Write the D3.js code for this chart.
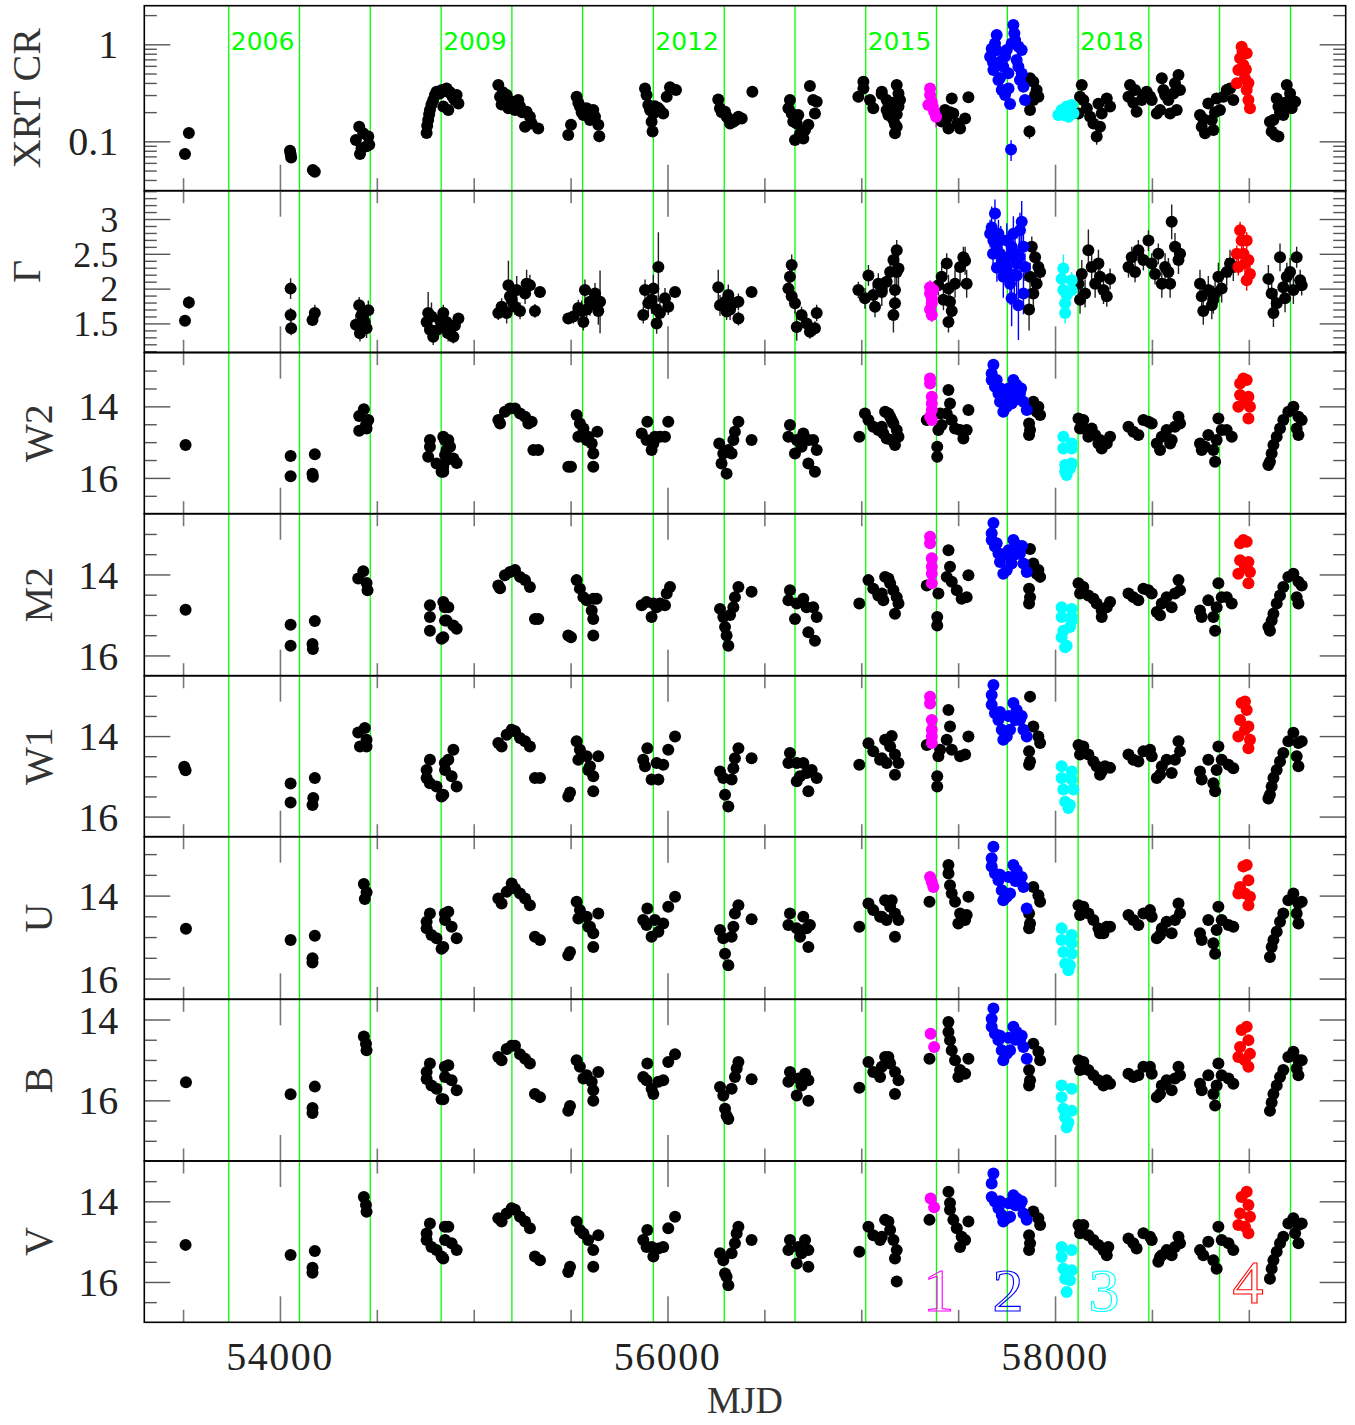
<!DOCTYPE html>
<html>
<head>
<meta charset="utf-8">
<script src="https://cdn.jsdelivr.net/npm/d3@7"></script>
<style>
  body { margin: 0; background: #fff; }
</style>
</head>
<body>
<div id="chart"></div>
<script>
// point = [MJD, value, group, error]; group 0 = quiescent, 1..4 = flares
const xrtRate = [
  [53510,0.074],[53530,0.122],
  [54052,0.080],[54055,0.074],[54058,0.068],
  [54170,0.0506],[54180,0.0486],
  [54409,0.141],[54392,0.103],[54430,0.121],[54456,0.112],[54447,0.089],[54413,0.074],[54461,0.092],[54421,0.085],
  [54757,0.122],[54760,0.145],[54765,0.166],[54770,0.19],[54774,0.21],[54782,0.24],[54791,0.267],[54800,0.30],[54808,0.325],[54825,0.312],[54835,0.338],[54843,0.228],[54851,0.343],[54860,0.351],[54868,0.325],[54869,0.21],[54878,0.32],[54886,0.30],[54895,0.28],[54903,0.267],[54912,0.30],[54921,0.246],
  [55127,0.380],[55136,0.288],[55144,0.240],[55150,0.32],[55170,0.30],[55179,0.219],[55187,0.26],[55196,0.256],[55213,0.21],[55220,0.24],[55230,0.267],[55239,0.228],[55250,0.2],[55265,0.141],[55273,0.202],[55290,0.179],[55299,0.153],[55333,0.136],
  [55488,0.116],[55502,0.148],[55531,0.288],[55540,0.25],[55548,0.228],[55557,0.2],[55566,0.187],[55583,0.219],[55600,0.166],[55609,0.19],[55617,0.210],[55626,0.179],[55643,0.148],[55648,0.113,0,0.015],
  [55884,0.351],[55892,0.30],[55901,0.237],[55910,0.21],[55927,0.194],[55918,0.159],[55923,0.126],[55935,0.23],[55953,0.22],[55961,0.21],[55978,0.194],[55996,0.288],[56013,0.36],[56044,0.338],
  [56262,0.27],[56271,0.219],[56280,0.2],[56297,0.202],[56305,0.18],[56314,0.172],[56323,0.153],[56340,0.159],[56350,0.165],[56357,0.17],[56366,0.179],[56383,0.172],[56438,0.325],
  [56624,0.219],[56632,0.267],[56641,0.194],[56649,0.16],[56658,0.103],[56667,0.153],[56675,0.187],[56684,0.12],[56701,0.107],[56710,0.131],[56727,0.148],[56735,0.372],[56752,0.267],[56761,0.194],[56770,0.256],
  [56985,0.288],[57011,0.412,0,0.04],[57011,0.351],[57045,0.267],[57062,0.219],[57105,0.307],[57106,0.325],[57131,0.21],[57131,0.267],[57140,0.187],[57149,0.21],[57157,0.179],[57166,0.166],[57166,0.25],[57174,0.121],[57174,0.15],[57183,0.38],[57183,0.141],[57183,0.19],[57192,0.312],[57192,0.228],[57200,0.267],
  [57346,0.237,1],[57355,0.351,1],[57355,0.30,1],[57364,0.256,1],[57369,0.228,1],[57376,0.202,1],[57386,0.179,1,0.04],
  [57407,0.172],[57415,0.16],[57432,0.21],[57441,0.172],[57450,0.136],[57458,0.2],[57467,0.277],[57475,0.194],[57496,0.153],[57510,0.136],[57536,0.172],[57553,0.284],
  [57665,0.745,2],[57673,0.9,2],[57680,0.65,2],[57682,0.543,2],[57690,1.02,2],[57699,1.25,2],[57699,0.87,2],[57708,0.429,2],[57716,0.662,2],[57716,0.45,2],[57725,0.338,2],[57733,0.588,2],[57742,0.30,2],[57742,0.75,2],[57751,0.873,2],[57759,0.502,2],[57760,0.35,2],[57768,0.242,2],[57776,1.02,2],[57785,1.58,2],[57790,1.3,2],[57794,1.11,2],[57802,0.689,2],[57811,0.588,2],[57811,0.95,2],[57819,0.429,2],[57828,0.873,2],[57828,0.5,2],[57837,0.366,2],[57845,0.267,2],[57773,0.0826,2,0.02],
  [57868,0.126,0,0.02],[57871,0.446],[57871,0.21],[57888,0.412],[57888,0.267],[57897,0.30],[57905,0.338],[57914,0.288],
  [58017,0.187,3],[58034,0.21,3],[58043,0.187,3],[58060,0.228,3],[58069,0.179,3],[58086,0.237,3],[58095,0.194,3],
  [58121,0.194],[58129,0.288],[58138,0.38],[58146,0.267],[58164,0.219],[58181,0.179],[58198,0.153],[58215,0.112,0,0.02],[58224,0.244],[58232,0.141],[58241,0.194],[58267,0.277],[58284,0.228],
  [58379,0.288],[58387,0.38],[58404,0.25],[58413,0.338],[58421,0.202],[58447,0.267],[58456,0.3],[58473,0.325],[58490,0.29],[58499,0.267],[58525,0.194],[58542,0.21],[58551,0.446],[58559,0.338],[58568,0.3],[58585,0.267],[58594,0.194],[58611,0.312],[58619,0.396],[58628,0.21],[58637,0.483],[58645,0.338],
  [58748,0.187],[58757,0.141],[58765,0.17],[58774,0.121],[58791,0.246],[58809,0.166],[58817,0.131],[58826,0.2],[58834,0.277],[58851,0.21],[58869,0.288],[58886,0.338],[58903,0.351],[58920,0.267],
  [58938,0.396,4],[58946,0.543,4],[58955,0.717,4],[58963,0.945,4],[58968,0.85,4],[58972,0.612,4],[58980,0.446,4],[58985,0.55,4],[58989,0.338,4],[58989,0.808,4],[58998,0.267,4],[58998,0.4,4],[59006,0.219,4],
  [59109,0.159],[59118,0.126],[59127,0.166],[59135,0.116],[59144,0.277],[59153,0.112],[59153,0.228],[59161,0.2],[59178,0.187],[59187,0.25],[59196,0.38],[59204,0.228],[59213,0.312],[59221,0.219],[59239,0.256]
];

const photonIndex = [
  [53510,1.54,0,0.06],[53530,1.80,0,0.09],
  [54055,2.00,0,0.15],[54055,1.62,0,0.10],[54058,1.43,0,0.10],
  [54168,1.55,0,0.08],[54180,1.65,0,0.12],
  [54409,1.76,0,0.12],[54456,1.69,0,0.14],[54392,1.48,0,0.15],[54430,1.55,0,0.12],[54447,1.43,0,0.14],[54413,1.36,0,0.12],[54421,1.62,0,0.12],[54438,1.52,0,0.14],
  [54765,1.65,0,0.3],[54757,1.52,0,0.15],[54774,1.41,0,0.14],[54791,1.31,0,0.12],[54825,1.55,0,0.12],[54843,1.45,0,0.14],[54868,1.36,0,0.12],[54843,1.65,0,0.12],[54860,1.52,0,0.12],[54878,1.41,0,0.1],[54903,1.47,0,0.1],[54921,1.57,0,0.08],[54895,1.31,0,0.1],[54782,1.6,0,0.2],[54808,1.4,0,0.12],
  [55127,1.65,0,0.1],[55144,1.74,0,0.12],[55179,2.05,0,0.35],[55187,1.89,0,0.15],[55170,1.65,0,0.15],[55196,1.84,0,0.15],[55222,1.98,0,0.2],[55239,1.68,0,0.12],[55265,1.93,0,0.15],[55273,2.07,0,0.2],[55290,2.05,0,0.15],[55316,1.68,0,0.1],[55342,1.95,0,0.08],[55213,1.74,0,0.12],
  [55488,1.57,0,0.05],[55514,1.60,0,0.1],[55540,1.72,0,0.12],[55557,1.68,0,0.15],[55574,1.98,0,0.15],[55583,1.70,0,0.15],[55600,1.81,0,0.2],[55626,1.93,0,0.15],[55634,1.76,0,0.15],[55652,1.81,0,0.45],[55643,1.68,0,0.2],[55566,1.52,0,0.12],
  [55875,1.62,0,0.12],[55884,1.98,0,0.15],[55901,1.79,0,0.15],[55927,2.0,0,0.2],[55944,1.70,0,0.2],[55953,2.31,0,0.5],[55961,1.65,0,0.2],[55987,1.86,0,0.15],[56004,1.74,0,0.12],[56039,1.95,0,0.08],[55944,1.50,0,0.15],[55918,1.84,0,0.2],
  [56262,2.02,0,0.25],[56271,1.76,0,0.15],[56297,1.81,0,0.15],[56314,1.91,0,0.15],[56323,1.70,0,0.15],[56340,1.79,0,0.12],[56366,1.81,0,0.12],[56366,1.57,0,0.1],[56434,1.95,0,0.08],[56305,1.67,0,0.12],
  [56641,2.34,0,0.15],[56632,2.17,0,0.15],[56624,2.0,0,0.15],[56641,1.89,0,0.12],[56658,1.79,0,0.15],[56667,1.45,0,0.2],[56692,1.62,0,0.12],[56718,1.50,0,0.12],[56744,1.41,0,0.1],[56770,1.65,0,0.12],[56761,1.43,0,0.1],[56735,1.38,0,0.1],
  [56985,1.98,0,0.12],[57019,1.86,0,0.15],[57037,2.19,0,0.15],[57062,1.91,0,0.15],[57071,1.74,0,0.15],[57088,2.07,0,0.15],[57105,2.0,0,0.15],[57106,1.95,0,0.2],[57131,2.10,0,0.15],[57149,2.24,0,0.15],[57166,2.41,0,0.2],[57183,2.55,0,0.15],[57174,1.79,0,0.2],[57166,1.62,0,0.25],[57174,1.98,0,0.2],[57183,2.24,0,0.2],[57192,2.29,0,0.25],
  [57355,2.02,1,0.1],[57355,1.93,1,0.1],[57364,1.86,1,0.1],[57364,1.79,1,0.1],[57355,1.70,1,0.1],[57364,1.62,1,0.1],[57372,1.98,1,0.12],
  [57398,2.05,0,0.15],[57415,2.17,0,0.15],[57441,2.36,0,0.15],[57450,2.0,0,0.2],[57458,1.81,0,0.2],[57450,1.52,0,0.15],[57467,1.68,0,0.2],[57484,2.07,0,0.2],[57510,2.31,0,0.2],[57527,2.45,0,0.15],[57536,2.40,0,0.2],[57544,2.07,0,0.2],[57424,1.84,0,0.15],
  [57690,3.08,2,0.2],[57673,2.88,2,0.3],[57665,2.79,2,0.2],[57682,2.69,2,0.2],[57699,2.60,2,0.2],[57716,2.50,2,0.2],[57725,2.41,2,0.2],[57742,2.31,2,0.2],[57751,2.69,2,0.25],[57776,2.60,2,0.25],[57785,2.79,2,0.25],[57794,2.50,2,0.25],[57802,2.36,2,0.25],[57819,2.84,2,0.25],[57828,2.96,2,0.3],[57837,2.60,2,0.2],[57845,2.31,2,0.2],[57768,2.07,2,0.3],[57776,1.86,2,0.4],[57811,1.76,2,0.5],[57837,1.93,2,0.3],[57733,2.17,2,0.3],[57708,2.79,2,0.2],[57802,2.19,2,0.3],[57680,2.5,2,0.2],[57700,2.3,2,0.2],[57720,2.7,2,0.2],[57760,2.45,2,0.25],[57790,2.2,2,0.3],[57815,2.45,2,0.3],[57750,2.3,2,0.3],
  [57880,2.60,0,0.15],[57897,2.45,0,0.15],[57914,2.31,0,0.15],[57923,2.24,0,0.15],[57905,2.07,0,0.15],[57888,1.93,0,0.2],[57866,1.70,0,0.3],[57871,2.17,0,0.2],
  [58043,2.29,3,0.2],[58034,2.14,3,0.12],[58043,1.98,3,0.12],[58060,1.91,3,0.12],[58052,1.79,3,0.12],[58052,1.65,3,0.15],[58086,2.12,3,0.12],[58086,1.98,3,0.12],
  [58121,2.07,0,0.2],[58138,2.21,0,0.2],[58155,1.93,0,0.2],[58172,2.55,0,0.3],[58189,2.31,0,0.2],[58207,2.07,0,0.2],[58232,2.17,0,0.2],[58250,1.98,0,0.2],[58267,1.89,0,0.15],[58284,2.14,0,0.15],[58224,2.36,0,0.2],[58129,1.84,0,0.2],
  [58379,2.31,0,0.15],[58396,2.45,0,0.15],[58413,2.24,0,0.15],[58430,2.55,0,0.15],[58456,2.41,0,0.15],[58482,2.69,0,0.15],[58499,2.36,0,0.15],[58516,2.21,0,0.15],[58533,2.50,0,0.15],[58551,2.07,0,0.2],[58568,2.31,0,0.2],[58585,2.24,0,0.2],[58602,2.96,0,0.25],[58619,2.60,0,0.2],[58637,2.41,0,0.2],[58645,2.50,0,0.15],[58594,2.07,0,0.2],
  [58748,2.07,0,0.2],[58757,1.89,0,0.2],[58765,1.68,0,0.2],[58791,1.98,0,0.2],[58809,1.76,0,0.2],[58826,1.93,0,0.2],[58843,2.17,0,0.2],[58860,2.0,0,0.2],[58886,2.24,0,0.2],[58903,2.36,0,0.2],[58920,2.31,0,0.2],[58817,1.84,0,0.2],
  [58955,2.84,4,0.12],[58963,2.69,4,0.12],[58972,2.50,4,0.12],[58980,2.36,4,0.12],[58989,2.69,4,0.12],[58998,2.41,4,0.12],[59006,2.21,4,0.12],[58946,2.31,4,0.12],[58989,2.12,4,0.15],[58938,2.50,4,0.12],
  [59101,2.14,0,0.2],[59118,1.93,0,0.2],[59127,1.65,0,0.2],[59144,1.79,0,0.2],[59161,2.45,0,0.2],[59178,2.02,0,0.2],[59196,2.17,0,0.2],[59213,2.24,0,0.2],[59230,1.98,0,0.2],[59247,2.45,0,0.15],[59265,2.12,0,0.15],[59273,2.05,0,0.15],[59187,1.86,0,0.2]
];

const magW2 = [
  [53513,15.08],
  [54055,15.39],[54055,15.95],
  [54180,15.34],[54168,15.88],[54170,15.97],
  [54433,14.08],[54409,14.27],[54456,14.38],[54444,14.52],[54409,14.68],[54447,14.62],
  [54774,14.94],[54774,15.13],[54765,15.41],[54808,15.60],[54834,15.83],[54851,14.94],[54860,15.22],[54843,14.85],[54869,14.94],[54878,15.13],[54852,15.36],[54895,15.46],[54912,15.58],[54843,15.69],[54843,15.83],[54860,15.50],
  [55127,14.38],[55136,14.48],[55161,14.15],[55187,14.06],[55213,14.06],[55239,14.20],[55265,14.29],[55282,14.48],[55299,14.43],[55308,15.22],[55333,15.22],
  [55488,15.69],[55502,15.69],[55531,14.24],[55548,14.48],[55540,14.85],[55566,14.62],[55583,14.94],[55609,15.04],[55617,15.32],[55638,14.71],[55617,15.69],[55591,14.85],
  [55896,14.43],[55867,14.76],[55892,14.94],[55918,15.22],[55935,14.85],[55961,14.85],[55987,14.85],[56004,14.43],[55927,15.04],
  [56267,15.04],[56288,15.32],[56279,15.60],[56305,15.88],[56314,15.22],[56340,14.94],[56348,14.71],[56366,14.43],[56434,14.94],[56331,15.32],
  [56632,14.52],[56624,14.85],[56667,14.94],[56701,14.76],[56658,15.32],[56692,15.13],[56727,14.94],[56752,14.94],[56770,15.22],[56727,15.60],[56761,15.83],[56684,15.0],
  [56990,14.85],[57019,14.20],[57037,14.38],[57062,14.57],[57088,14.66],[57114,14.76],[57140,14.20],[57157,14.94],[57123,14.15],[57149,14.29],[57166,14.48],[57183,14.66],[57192,14.85],[57174,15.08],[57157,14.38],[57106,14.57],[57131,14.9],
  [57355,13.22,1],[57355,13.36,1],[57364,13.73,1],[57364,13.92,1],[57364,14.10,1],[57355,14.29,1],[57364,14.38,1],
  [57338,14.38],[57398,14.66],[57392,15.13],[57392,15.41],[57450,13.54],[57458,13.92],[57441,14.20],[57467,14.38],[57484,14.62],[57510,14.66],[57527,14.90],[57553,14.10],[57544,14.66],[57415,14.52],[57407,14.2],
  [57682,12.84,2],[57673,13.08,2],[57673,13.26,2],[57690,13.45,2],[57708,13.64,2],[57716,13.87,2],[57733,14.15,2],[57751,14.01,2],[57768,13.64,2],[57785,13.26,2],[57802,13.40,2],[57819,13.64,2],[57837,13.87,2],[57854,14.10,2],[57699,13.26,2],[57776,13.92,2],[57742,13.73,2],[57802,13.8,2],[57760,13.5,2],[57790,13.6,2],[57825,13.5,2],[57720,13.5,2],
  [57888,13.87],[57914,14.01],[57923,14.24],[57905,14.15],[57866,14.48],[57871,14.66],[57866,14.80],
  [58043,14.85,3],[58043,15.18,3],[58086,15.04,3],[58086,15.18,3],[58052,15.64,3],[58052,15.83,3],[58060,15.92,3],[58077,15.74,3],[58086,15.60,3],
  [58121,14.34],[58146,14.38],[58129,14.62],[58164,14.66],[58189,14.62],[58207,14.80],[58232,14.94],[58241,15.18],[58267,15.04],[58284,14.85],[58224,15.04],[58172,14.85],
  [58379,14.57],[58404,14.71],[58430,14.80],[58456,14.38],[58482,14.43],[58499,14.48],[58525,15.04],[58551,14.85],[58576,14.66],[58602,14.94],[58619,14.57],[58637,14.29],[58645,14.48],[58542,15.22],[58594,15.04],
  [58748,15.04],[58757,15.22],[58791,14.80],[58817,15.22],[58826,15.55],[58843,14.34],[58860,14.66],[58886,14.66],[58912,14.85],[58834,14.94],[58774,15.13],
  [58946,14.01,4],[58955,13.36,4],[58972,13.22,4],[58989,13.26,4],[58998,13.73,4],[59006,14.01,4],[58998,14.34,4],[58980,13.82,4],[58955,13.68,4],
  [59109,15.55],[59118,15.32],[59127,15.08],[59144,14.85],[59161,14.62],[59178,14.38],[59204,14.15],[59230,14.01],[59256,14.29],[59273,14.38],[59256,14.80],[59247,14.62],[59101,15.64]
];

const magM2 = [
  [53513,14.87],
  [54055,15.24],[54055,15.76],
  [54180,15.15],[54168,15.72],[54170,15.84],
  [54430,13.92],[54404,14.10],[54447,14.21],[54452,14.39],
  [54843,14.68],[54869,14.81],[54852,15.14],[54895,15.26],[54912,15.34],[54843,15.55],[54774,14.76],[54774,15.05],[54774,15.39],[54834,15.59],[54851,14.81],[54860,15.14],
  [55127,14.27],[55161,14.02],[55187,13.94],[55213,13.89],[55239,14.06],[55265,14.14],[55290,14.31],[55316,15.10],[55333,15.10],[55136,14.34],
  [55488,15.51],[55502,15.55],[55531,14.14],[55548,14.35],[55566,14.56],[55583,14.64],[55617,14.60],[55634,14.60],[55609,14.89],[55617,15.10],[55617,15.51],
  [55892,14.68],[55867,14.76],[55927,14.72],[55944,14.81],[55918,15.05],[55961,14.72],[55987,14.76],[55996,14.47],[56013,14.31],
  [56271,14.85],[56288,15.05],[56297,15.30],[56305,15.51],[56323,15.0],[56340,14.81],[56348,14.56],[56366,14.31],[56434,14.43],[56314,15.76],
  [56632,14.39],[56624,14.64],[56667,14.72],[56701,14.60],[56718,14.81],[56752,14.81],[56770,15.05],[56658,15.10],[56727,15.43],[56761,15.64],
  [56990,14.72],[57037,14.14],[57062,14.35],[57088,14.52],[57114,14.64],[57140,14.10],[57123,14.06],[57149,14.22],[57166,14.39],[57183,14.56],[57192,14.72],[57174,14.97],[57106,14.47],
  [57355,13.07,1],[57355,13.23,1],[57364,13.60,1],[57364,13.81,1],[57364,13.98,1],[57364,14.22,1],
  [57338,14.27],[57450,13.40],[57458,13.81],[57441,14.06],[57467,14.18],[57493,14.39],[57518,14.60],[57544,14.56],[57553,14.02],[57398,14.47],[57392,15.05],[57392,15.26],
  [57682,12.73,2],[57673,12.98,2],[57673,13.15,2],[57690,13.31,2],[57708,13.48,2],[57716,13.69,2],[57733,13.98,2],[57751,13.89,2],[57768,13.56,2],[57785,13.15,2],[57802,13.27,2],[57819,13.48,2],[57837,13.73,2],[57854,13.94,2],[57699,13.23,2],[57776,13.73,2],[57725,13.5,2],[57760,13.4,2],[57795,13.5,2],[57830,13.3,2],
  [57871,13.37],[57888,13.73],[57914,13.89],[57923,14.06],[57905,13.98],[57866,14.35],[57871,14.56],[57866,14.72],
  [58034,14.81,3],[58086,14.85,3],[58034,15.05,3],[58086,15.05,3],[58043,15.39,3],[58034,15.55,3],[58060,15.76,3],[58077,15.30,3],[58086,15.14,3],[58052,15.80,3],
  [58121,14.22],[58146,14.31],[58129,14.47],[58172,14.52],[58198,14.60],[58215,14.72],[58241,14.89],[58241,15.05],[58267,14.81],[58284,14.68],
  [58379,14.47],[58404,14.56],[58430,14.64],[58456,14.35],[58482,14.39],[58499,14.47],[58525,14.93],[58551,14.72],[58576,14.56],[58602,14.81],[58619,14.47],[58637,14.14],[58645,14.39],[58542,15.01],
  [58748,14.89],[58757,15.05],[58791,14.64],[58817,15.05],[58826,15.39],[58843,14.22],[58860,14.56],[58886,14.56],[58912,14.72],[58834,14.81],
  [58946,13.98,4],[58955,13.23,4],[58972,13.15,4],[58989,13.19,4],[58998,13.69,4],[59006,13.94,4],[58998,14.22,4],[58980,13.81,4],[58955,13.65,4],
  [59109,15.39],[59118,15.14],[59127,14.97],[59144,14.72],[59161,14.52],[59178,14.31],[59204,14.06],[59230,13.98],[59256,14.18],[59273,14.27],[59256,14.72],[59247,14.56],[59101,15.30]
];

const magW1 = [
  [53506,14.76],[53513,14.85],
  [54055,15.18],[54055,15.65],
  [54180,15.04],[54172,15.54],[54168,15.71],
  [54438,13.80],[54404,13.91],[54447,14.09],[54413,14.26],[54447,14.26],
  [54774,14.59],[54757,14.84],[54757,15.04],[54774,15.17],[54808,15.25],[54834,15.50],[54851,14.67],[54895,14.34],[54869,14.59],[54852,14.84],[54886,15.0],[54912,15.25],[54843,15.46],
  [55127,14.17],[55144,14.26],[55170,13.97],[55196,13.84],[55213,13.88],[55239,14.05],[55265,14.13],[55290,14.26],[55316,15.04],[55342,15.04],
  [55488,15.50],[55497,15.40],[55531,14.13],[55548,14.34],[55540,14.59],[55583,14.50],[55600,14.75],[55617,15.0],[55643,14.50],[55617,15.37],[55591,14.84],
  [55896,14.30],[55875,14.59],[55884,14.75],[55918,15.08],[55953,15.08],[55944,14.67],[55978,14.71],[56004,14.34],[56039,14.01],
  [56271,14.88],[56288,15.04],[56297,15.46],[56314,15.75],[56331,15.08],[56340,14.80],[56348,14.55],[56366,14.30],[56434,14.55],
  [56632,14.42],[56624,14.67],[56667,14.67],[56701,14.67],[56684,15.0],[56718,14.92],[56744,14.84],[56770,15.04],[56727,15.37],[56667,15.12],
  [56990,14.71],[57037,14.18],[57062,14.38],[57097,14.59],[57131,14.67],[57157,14.0],[57123,14.09],[57149,14.26],[57174,14.46],[57192,14.67],[57174,14.96],[57106,14.55],
  [57355,13.02,1],[57355,13.19,1],[57364,13.60,1],[57364,13.84,1],[57364,14.01,1],[57364,14.17,1],
  [57338,14.22],[57450,13.35],[57458,13.76],[57441,14.09],[57467,14.34],[57510,14.5],[57536,14.46],[57553,14.01],[57398,14.5],[57392,15.0],[57392,15.25],[57407,14.34],
  [57682,12.73,2],[57673,12.98,2],[57673,13.22,2],[57690,13.43,2],[57708,13.60,2],[57725,13.84,2],[57733,14.09,2],[57768,13.84,2],[57785,13.18,2],[57802,13.35,2],[57819,13.60,2],[57837,13.84,2],[57854,14.01,2],[57751,14.01,2],[57716,13.4,2],[57760,13.5,2],[57795,13.6,2],[57828,13.5,2],
  [57871,13.02],[57888,13.76],[57914,14.01],[57923,14.17],[57866,14.38],[57871,14.63],[57866,14.71],
  [58034,14.75,3],[58086,14.88,3],[58034,15.04,3],[58086,15.08,3],[58043,15.33,3],[58095,15.33,3],[58052,15.63,3],[58069,15.79,3],[58077,15.71,3],
  [58121,14.22],[58146,14.26],[58129,14.46],[58172,14.46],[58198,14.63],[58215,14.75],[58241,14.88],[58258,14.75],[58284,14.79],[58232,14.96],
  [58379,14.46],[58404,14.59],[58430,14.63],[58456,14.38],[58490,14.34],[58499,14.5],[58525,15.04],[58551,14.75],[58576,14.59],[58602,14.92],[58619,14.59],[58637,14.13],[58645,14.38],[58542,14.96],
  [58748,14.88],[58757,15.08],[58791,14.59],[58817,15.17],[58826,15.37],[58843,14.26],[58860,14.59],[58895,14.71],[58920,14.80],[58834,14.84],
  [58946,14.01,4],[58963,13.18,4],[58980,13.14,4],[58989,13.35,4],[58998,13.76,4],[59006,14.09,4],[58998,14.30,4],[58955,13.60,4],[58980,13.84,4],
  [59109,15.46],[59118,15.25],[59127,15.04],[59144,14.84],[59161,14.63],[59178,14.42],[59204,14.13],[59230,13.92],[59256,14.17],[59273,14.13],[59256,14.75],[59247,14.5],[59101,15.55]
];

const magU = [
  [53515,14.80],
  [54055,15.07],
  [54180,14.97],[54168,15.51],[54168,15.61],
  [54433,13.72],[54447,13.92],[54438,14.08],
  [54774,14.43],[54757,14.63],[54757,14.79],[54782,14.95],[54808,15.03],[54834,15.28],[54851,14.43],[54869,14.39],[54852,14.59],[54886,14.75],[54912,15.03],[54843,15.24],
  [55127,14.07],[55144,14.19],[55170,13.91],[55196,13.71],[55213,13.83],[55239,13.95],[55265,14.07],[55290,14.23],[55316,14.99],[55342,15.07],
  [55488,15.44],[55497,15.36],[55531,14.15],[55548,14.35],[55540,14.55],[55583,14.51],[55600,14.75],[55617,14.91],[55643,14.43],[55617,15.24],[55591,14.75],
  [55896,14.31],[55875,14.59],[55892,14.71],[55918,14.99],[55953,14.87],[55935,14.59],[55978,14.67],[56004,14.27],[56039,14.03],
  [56271,14.83],[56288,15.03],[56297,15.40],[56314,15.68],[56331,14.99],[56340,14.75],[56348,14.43],[56366,14.23],[56434,14.57],
  [56632,14.43],[56624,14.71],[56667,14.79],[56701,14.51],[56718,14.79],[56684,14.99],[56727,15.24],[56735,14.71],
  [56990,14.75],[57037,14.19],[57062,14.35],[57097,14.51],[57131,14.59],[57157,14.11],[57123,14.11],[57149,14.27],[57174,14.43],[57192,14.59],[57174,14.99],[57106,14.51],
  [57355,13.55,1],[57364,13.67,1],[57372,13.79,1],
  [57352,14.15],[57450,13.26],[57450,13.47],[57458,13.75],[57467,13.95],[57484,14.15],[57510,14.43],[57536,14.59],[57553,14.03],[57544,14.47],[57501,14.67],
  [57682,12.82,2],[57673,13.1,2],[57673,13.3,2],[57690,13.47,2],[57708,13.63,2],[57725,13.87,2],[57733,14.11,2],[57768,13.95,2],[57785,13.26,2],[57802,13.39,2],[57819,13.63,2],[57837,13.79,2],[57854,14.31,2],[57751,14.03,2],[57716,13.5,2],[57760,13.55,2],[57795,13.65,2],[57828,13.55,2],
  [57888,13.79],[57914,13.99],[57923,14.15],[57866,14.43],[57871,14.67],[57866,14.79],
  [58034,14.79,3],[58086,14.95,3],[58034,15.07,3],[58086,15.15,3],[58043,15.36,3],[58086,15.40,3],[58052,15.64,3],[58069,15.80,3],[58077,15.68,3],
  [58121,14.23],[58146,14.27],[58129,14.47],[58172,14.43],[58198,14.59],[58224,14.79],[58250,14.91],[58267,14.75],[58284,14.75],[58232,14.91],
  [58379,14.47],[58404,14.59],[58430,14.71],[58456,14.43],[58490,14.35],[58499,14.51],[58525,15.03],[58551,14.79],[58576,14.63],[58602,14.91],[58619,14.59],[58637,14.19],[58645,14.43],[58542,14.95],
  [58748,14.91],[58757,15.07],[58791,14.59],[58817,15.15],[58826,15.40],[58843,14.27],[58860,14.59],[58895,14.71],[58920,14.75],[58834,14.83],
  [58946,13.95,4],[58972,13.30,4],[58989,13.26,4],[58998,13.63,4],[59006,14.03,4],[58998,14.23,4],[58955,13.79,4],[58980,13.95,4],
  [59109,15.48],[59118,15.24],[59127,15.07],[59144,14.87],[59161,14.63],[59178,14.43],[59204,14.11],[59230,13.95],[59256,14.19],[59273,14.15],[59256,14.67],[59247,14.43]
];

const magB = [
  [53515,15.55],
  [54055,15.85],
  [54180,15.66],[54168,16.19],[54168,16.31],
  [54433,14.42],[54444,14.60],[54447,14.76],
  [54774,15.09],[54757,15.30],[54757,15.47],[54782,15.63],[54808,15.71],[54834,15.97],[54851,15.17],[54869,15.13],[54852,15.42],[54886,15.50],[54912,15.75],[54843,15.97],
  [55127,14.93],[55144,15.01],[55170,14.73],[55196,14.65],[55213,14.65],[55239,14.86],[55265,14.97],[55290,15.09],[55316,15.84],[55342,15.92],
  [55488,16.26],[55497,16.14],[55531,15.01],[55548,15.17],[55566,15.46],[55583,15.38],[55609,15.54],[55617,15.75],[55643,15.30],[55617,16.01],
  [55896,15.09],[55875,15.42],[55892,15.50],[55927,15.84],[55953,15.54],[55978,15.50],[56004,15.05],[56039,14.86],[55918,15.71],
  [56271,15.67],[56288,15.88],[56297,16.21],[56314,16.46],[56331,15.71],[56348,15.42],[56357,15.21],[56366,15.05],[56434,15.48],[56305,16.38],
  [56632,15.30],[56624,15.54],[56675,15.46],[56710,15.34],[56727,15.50],[56667,15.88],[56727,16.01],[56692,15.63],
  [56990,15.69],[57037,15.05],[57062,15.30],[57097,15.42],[57140,14.93],[57123,14.93],[57149,15.09],[57174,15.30],[57192,15.50],[57174,15.84],[57106,15.17],
  [57358,14.35,1],[57376,14.68,1],
  [57352,14.97],[57450,14.06],[57450,14.31],[57458,14.51],[57467,14.76],[57484,15.01],[57510,15.25],[57536,15.34],[57553,14.97],[57501,15.42],
  [57682,13.73,2],[57673,13.98,2],[57673,14.18,2],[57690,14.35,2],[57708,14.51,2],[57725,14.76,2],[57733,15.01,2],[57768,14.76,2],[57785,14.18,2],[57802,14.31,2],[57819,14.51,2],[57837,14.68,2],[57854,14.97,2],[57751,14.85,2],[57716,14.4,2],[57760,14.45,2],[57795,14.5,2],[57828,14.4,2],
  [57888,14.60],[57914,14.80],[57923,15.01],[57866,15.25],[57871,15.50],[57866,15.63],
  [58034,15.63,3],[58086,15.71,3],[58034,15.92,3],[58043,16.21,3],[58086,16.26,3],[58052,16.42,3],[58069,16.55,3],[58060,16.67,3],
  [58121,15.01],[58146,15.05],[58129,15.25],[58172,15.25],[58198,15.38],[58224,15.50],[58250,15.63],[58267,15.50],[58284,15.59],
  [58379,15.34],[58404,15.42],[58430,15.38],[58456,15.17],[58490,15.17],[58499,15.34],[58525,15.92],[58551,15.63],[58576,15.50],[58602,15.75],[58619,15.46],[58637,15.17],[58645,15.38],[58542,15.84],
  [58748,15.59],[58757,15.75],[58791,15.38],[58817,15.84],[58826,16.13],[58843,15.09],[58860,15.38],[58895,15.46],[58920,15.59],[58834,15.63],
  [58946,14.93,4],[58963,14.26,4],[58989,14.18,4],[58998,14.51,4],[59006,14.85,4],[58998,15.17,4],[58955,14.68,4],[58980,15.01,4],
  [59109,16.26],[59118,16.05],[59127,15.84],[59144,15.63],[59161,15.42],[59178,15.25],[59204,14.93],[59230,14.80],[59256,15.01],[59273,15.01],[59256,15.38],[59247,15.21]
];

const magV = [
  [53513,15.08],
  [54055,15.33],
  [54180,15.23],[54168,15.65],[54168,15.77],
  [54433,13.89],[54444,14.09],[54447,14.26],
  [54774,14.55],[54757,14.80],[54757,14.96],[54782,15.13],[54808,15.21],[54834,15.37],[54851,14.63],[54869,14.63],[54852,14.96],[54886,15.04],[54912,15.21],[54843,15.42],
  [55127,14.42],[55144,14.50],[55170,14.30],[55196,14.17],[55213,14.21],[55239,14.38],[55265,14.50],[55290,14.67],[55316,15.37],[55342,15.46],
  [55488,15.75],[55497,15.62],[55531,14.50],[55548,14.71],[55566,14.80],[55591,14.96],[55617,15.21],[55643,14.84],[55617,15.62],
  [55896,14.71],[55875,14.96],[55892,15.13],[55927,15.37],[55953,15.17],[55978,15.13],[56004,14.67],[56039,14.38],[55918,15.13],
  [56271,15.29],[56288,15.46],[56297,15.79],[56314,16.08],[56331,15.29],[56348,15.04],[56357,14.80],[56366,14.63],[56434,14.96],[56305,15.87],
  [56632,14.96],[56624,15.21],[56675,15.13],[56710,14.96],[56727,15.21],[56667,15.54],[56727,15.62],[56692,15.29],
  [56990,15.25],[57037,14.63],[57062,14.84],[57097,14.96],[57140,14.50],[57123,14.46],[57149,14.71],[57166,14.96],[57183,15.21],[57174,15.42],[57183,15.99],[57106,14.88],
  [57358,13.93,1],[57376,14.15,1],
  [57352,14.46],[57450,13.76],[57458,14.04],[57458,14.21],[57475,14.46],[57493,14.67],[57518,14.88],[57510,15.13],[57536,14.96],[57553,14.50],
  [57682,13.31,2],[57673,13.56,2],[57673,13.89,2],[57690,14.01,2],[57708,14.17,2],[57725,14.34,2],[57733,14.50,2],[57768,14.38,2],[57785,13.85,2],[57802,13.93,2],[57819,14.09,2],[57837,14.30,2],[57854,14.46,2],[57751,14.42,2],[57716,14.0,2],[57760,14.05,2],[57795,14.1,2],[57828,14.0,2],
  [57888,14.25],[57914,14.42],[57923,14.59],[57866,14.84],[57871,15.04],[57866,15.21],
  [58034,15.13,3],[58086,15.21,3],[58034,15.38,3],[58043,15.67,3],[58086,15.71,3],[58052,15.92,3],[58060,16.25,3],[58077,15.96,3],
  [58121,14.59],[58146,14.59],[58129,14.79],[58172,14.84],[58198,14.96],[58224,15.08],[58250,15.21],[58275,15.13],[58267,15.34],
  [58379,14.92],[58404,15.04],[58421,15.17],[58456,14.79],[58490,14.88],[58499,14.96],[58533,15.50],[58551,15.34],[58576,15.21],[58602,15.34],[58619,15.13],[58637,14.88],[58645,15.04],[58542,15.38],
  [58748,15.21],[58765,15.34],[58791,15.0],[58817,15.46],[58834,15.67],[58843,14.63],[58860,14.96],[58895,15.04],[58920,15.21],
  [58946,14.59,4],[58963,13.89,4],[58989,13.76,4],[58998,14.09,4],[59006,14.38,4],[58998,14.79,4],[58955,14.30,4],[58980,14.63,4],
  [59109,15.92],[59118,15.67],[59127,15.46],[59144,15.25],[59161,15.04],[59178,14.88],[59204,14.55],[59230,14.42],[59256,14.59],[59273,14.55],[59256,15.04],[59239,14.79]
];

// axis values and labels
const mjdMajor = [54000, 56000, 58000];
const mjdMinor = [53500, 54500, 55000, 55500, 56500, 57000, 57500, 58500, 59000];
const yearLines = d3.range(2006, 2022);
const yearLabels = [2006, 2009, 2012, 2015, 2018];
const flareNames = ['1', '2', '3', '4'];
const flareLabelMjd = [57400, 57757, 58253, 58996];
const flareColors = ['#000000', '#ff00ff', '#0000ff', '#00ffff', '#ff0000'];

const xrtTicks = [0.1, 1];
const gammaTicks = [1.5, 2, 2.5, 3];
const magTicks = [14, 16];

const mjdOfYear = yr => Date.UTC(yr, 0, 1) / 864e5 + 40587;

const svg = d3.select('#chart').append('svg')
  .attr('width', 1355)
  .attr('height', 1425)
  .style('font-family', '"Liberation Serif", "Times New Roman", serif');

const left = 144.3, right = 1345.7;
const x = d3.scaleLinear().domain([53300, 59500]).range([left, right]);

const panels = [
  { label: 'XRT CR', data: xrtRate, top: 5.7, bottom: 190.7, log: true, domain: [0.031, 2.5], major: xrtTicks, labelX: 40, fs: 40 },
  { label: 'Γ', data: photonIndex, top: 190.7, bottom: 352.3, domain: [1.085, 3.407], major: gammaTicks, step: 0.1, labelX: 40, fs: 36 },
  { label: 'W2', data: magW2, top: 352.7, bottom: 513.7, domain: [12.5, 17], major: magTicks, step: 0.5, labelX: 52, mag: true, fs: 40 },
  { label: 'M2', data: magM2, top: 513.7, bottom: 675.7, domain: [12.5, 16.5], major: magTicks, step: 0.5, labelX: 52, mag: true, fs: 40 },
  { label: 'W1', data: magW1, top: 675.7, bottom: 836.7, domain: [12.5, 16.5], major: magTicks, step: 0.5, labelX: 52, mag: true, fs: 40 },
  { label: 'U', data: magU, top: 836.7, bottom: 999.3, domain: [12.58, 16.5], major: magTicks, step: 0.5, labelX: 52, mag: true, fs: 40 },
  { label: 'B', data: magB, top: 999.3, bottom: 1161, domain: [13.5, 17.5], major: magTicks, step: 0.5, labelX: 52, mag: true, fs: 40 },
  { label: 'V', data: magV, top: 1161, bottom: 1322.3, domain: [13, 17], major: magTicks, step: 0.5, labelX: 52, mag: true, fs: 40 }
];

// year lines under everything
svg.append('g').selectAll('line')
  .data(yearLines)
  .enter().append('line')
  .attr('x1', d => x(mjdOfYear(d))).attr('x2', d => x(mjdOfYear(d)))
  .attr('y1', 5.7).attr('y2', 1322.3)
  .attr('stroke', '#00ff00').attr('stroke-width', 1.3);

svg.append('g').selectAll('text')
  .data(yearLabels)
  .enter().append('text')
  .attr('x', d => x(mjdOfYear(d)) + 2)
  .attr('y', 50)
  .attr('fill', '#00ff00')
  .style('font-family', '"DejaVu Sans", sans-serif')
  .style('font-size', '25px')
  .text(d => d);

panels.forEach((p, i) => {
  const y = (p.log ? d3.scaleLog() : d3.scaleLinear())
    .domain(p.domain)
    .range(p.mag ? [p.top, p.bottom] : [p.bottom, p.top]);

  const g = svg.append('g');
  const clipId = 'clip' + i;
  svg.append('clipPath').attr('id', clipId)
    .append('rect').attr('x', left).attr('y', p.top).attr('width', right - left).attr('height', p.bottom - p.top);

  // minor y ticks
  let minor;
  if (p.log) {
    minor = y.ticks().filter(v => !p.major.includes(v));
  } else {
    minor = d3.range(Math.ceil(p.domain[0] / p.step) * p.step, p.domain[1], p.step)
      .map(v => +v.toFixed(2))
      .filter(v => v > p.domain[0] + 1e-6 && v < p.domain[1] - 1e-6 && !p.major.includes(v));
  }

  const yAxes = [
    [d3.axisLeft, left, p.major, 26, true],
    [d3.axisLeft, left, minor, 12.5, false],
    [d3.axisRight, right, p.major, 26, false],
    [d3.axisRight, right, minor, 12.5, false]
  ];
  yAxes.forEach(([axisFn, xPos, vals, len, labels]) => {
    const ax = g.append('g')
      .attr('transform', `translate(${xPos},0)`)
      .call(axisFn(y).tickValues(vals).tickSize(-len).tickPadding(26)
        .tickFormat(labels ? d3.format('') : ''));
    ax.select('.domain').remove();
    ax.selectAll('line').attr('stroke', '#555').attr('stroke-width', 1.4);
    ax.selectAll('text')
      .attr('fill', '#222')
      .style('font-family', '"Liberation Serif", serif')
      .style('font-size', p.fs + 'px')
      .attr('dy', '0.34em');
  });

  // x ticks: bottom edge upwards, top edge downwards (not on first panel)
  const xAxes = [[d3.axisBottom, p.bottom]];
  if (i > 0) xAxes.push([d3.axisTop, p.top]);
  xAxes.forEach(([axisFn, yPos]) => {
    [[mjdMajor, 26], [mjdMinor, 12.5]].forEach(([vals, len]) => {
      const ax = g.append('g')
        .attr('transform', `translate(0,${yPos})`)
        .call(axisFn(x).tickValues(vals).tickSize(-len).tickFormat(''));
      ax.select('.domain').remove();
      ax.selectAll('line').attr('stroke', '#777').attr('stroke-width', 1.6);
    });
  });

  // error bars
  const plot = g.append('g').attr('clip-path', `url(#${clipId})`);
  const withErr = p.data.filter(d => d[3]);
  plot.selectAll('line.err')
    .data(withErr)
    .enter().append('line')
    .attr('class', 'err')
    .attr('x1', d => x(d[0])).attr('x2', d => x(d[0]))
    .attr('y1', d => y(Math.max(d[1] - d[3], p.domain[0])))
    .attr('y2', d => y(d[1] + d[3]))
    .attr('stroke', d => d[2] ? flareColors[d[2]] : '#222')
    .attr('stroke-width', 1.4);

  // points: quiescent first, flares on top
  const sorted = p.data.slice().sort((a, b) => (a[2] ? 1 : 0) - (b[2] ? 1 : 0));
  plot.selectAll('circle')
    .data(sorted)
    .enter().append('circle')
    .attr('cx', d => x(d[0]))
    .attr('cy', d => y(d[1]))
    .attr('r', 6)
    .attr('fill', d => flareColors[d[2] || 0]);

  // frame
  g.append('rect')
    .attr('x', left).attr('y', p.top)
    .attr('width', right - left).attr('height', p.bottom - p.top)
    .attr('fill', 'none').attr('stroke', '#000').attr('stroke-width', 1.6);

  // y label
  g.append('text')
    .attr('transform', `translate(${p.labelX},${(p.top + p.bottom) / 2}) rotate(-90)`)
    .attr('text-anchor', 'middle')
    .attr('fill', '#333')
    .style('font-size', '40px')
    .text(p.label);
});

// bottom tick labels
svg.append('g').selectAll('text')
  .data(mjdMajor)
  .enter().append('text')
  .attr('x', d => x(d))
  .attr('y', 1370)
  .attr('text-anchor', 'middle')
  .attr('fill', '#222')
  .style('font-size', '40px')
  .attr('letter-spacing', '1.5px')
  .text(d => d);

svg.append('text')
  .attr('x', (left + right) / 2)
  .attr('y', 1413)
  .attr('text-anchor', 'middle')
  .attr('fill', '#333')
  .style('font-size', '38px')
  .text('MJD');

// flare numbers
svg.append('g').selectAll('text')
  .data(flareNames)
  .enter().append('text')
  .attr('x', (d, i) => x(flareLabelMjd[i]))
  .attr('y', (d, i) => i === 3 ? 1303 : 1311)
  .attr('text-anchor', 'middle')
  .attr('fill', 'none')
  .attr('stroke', (d, i) => flareColors[i + 1])
  .attr('stroke-width', 1.1)
  .style('font-size', '62px')
  .text(d => d);
</script>
</body>
</html>
